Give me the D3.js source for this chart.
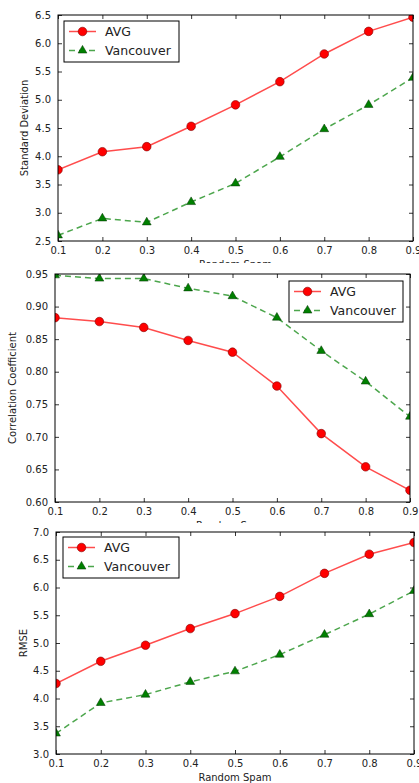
<!DOCTYPE html>
<html>
<head>
<meta charset="utf-8">
<script src="https://cdn.jsdelivr.net/npm/d3@7"></script>
<style>
  html, body { margin: 0; padding: 0; background: #fff; }
  svg { display: block; font-family: "DejaVu Sans", sans-serif; }
</style>
</head>
<body>
<svg id="chart" width="419" height="783"></svg>
<script>
// ---- data ----
const spam = [0.1, 0.2, 0.3, 0.4, 0.5, 0.6, 0.7, 0.8, 0.9];
const seriesNames = ["AVG", "Vancouver"];

const stdAvg = [3.76, 4.08, 4.17, 4.53, 4.91, 5.32, 5.81, 6.21, 6.46];
const stdVan = [2.60, 2.90, 2.83, 3.19, 3.52, 3.99, 4.48, 4.91, 5.39];

const corrAvg = [0.883, 0.877, 0.868, 0.848, 0.830, 0.778, 0.705, 0.654, 0.618];
const corrVan = [0.948, 0.943, 0.943, 0.928, 0.916, 0.883, 0.832, 0.785, 0.731];

const rmseAvg = [4.27, 4.67, 4.96, 5.26, 5.53, 5.84, 6.255, 6.60, 6.81];
const rmseVan = [3.37, 3.92, 4.07, 4.30, 4.49, 4.79, 5.15, 5.52, 5.94];

const xTicks = [0.1, 0.2, 0.3, 0.4, 0.5, 0.6, 0.7, 0.8, 0.9];
const stdTicks = [2.5, 3.0, 3.5, 4.0, 4.5, 5.0, 5.5, 6.0, 6.5];
const corrTicks = [0.60, 0.65, 0.70, 0.75, 0.80, 0.85, 0.90, 0.95];
const rmseTicks = [3.0, 3.5, 4.0, 4.5, 5.0, 5.5, 6.0, 6.5, 7.0];

const xLabel = "Random Spam";

// ---- drawing ----
const svg = d3.select("#chart");

// cropped title remnant at top
svg.append("rect").attr("x", 33).attr("y", 2.5).attr("width", 386).attr("height", 2.5).attr("fill", "#000");
svg.append("text").attr("x", 122).attr("y", -4).attr("font-size", 40).attr("fill", "#000").text("g");

const panels = [
  { box: {l: 58, r: 413, t: 15, b: 241}, domain: [2.5, 6.5], ticks: stdTicks, fmt: d3.format(".1f"),
    ylabel: "Standard Deviation", ylx: 24, avg: stdAvg, van: stdVan,
    legend: {x: 64, y: 21, w: 115, h: 41}, clipTop: 0, clipBottom: 263 },
  { box: {l: 55, r: 410, t: 274, b: 502}, domain: [0.60, 0.95], ticks: corrTicks, fmt: d3.format(".2f"),
    ylabel: "Correlation Coefficient", ylx: 12, avg: corrAvg, van: corrVan,
    legend: {x: 289, y: 281, w: 114, h: 41}, clipTop: 263, clipBottom: 523 },
  { box: {l: 56, r: 414, t: 532, b: 754}, domain: [3.0, 7.0], ticks: rmseTicks, fmt: d3.format(".1f"),
    ylabel: "RMSE", ylx: 23, avg: rmseAvg, van: rmseVan,
    legend: {x: 63, y: 537, w: 116, h: 41}, clipTop: 523, clipBottom: 783 }
];

const red = "#ff0000", green = "#008000";
const tickColor = "#222";

panels.forEach((p, i) => {
  const g = svg.append("g");
  // clip for whole panel image region
  const pc = "pclip" + i;
  svg.append("clipPath").attr("id", pc).append("rect")
    .attr("x", 0).attr("y", p.clipTop).attr("width", 419).attr("height", p.clipBottom - p.clipTop);
  g.attr("clip-path", `url(#${pc})`);
  g.append("rect").attr("x", 0).attr("y", p.clipTop).attr("width", 419)
    .attr("height", p.clipBottom - p.clipTop).attr("fill", "#fff");

  const b = p.box;
  const x = d3.scaleLinear().domain([0.1, 0.9]).range([b.l, b.r]);
  const y = d3.scaleLinear().domain(p.domain).range([b.b, b.t]);

  // axes (matplotlib classic: inward ticks on all four sides)
  const axB = d3.axisBottom(x).tickValues(xTicks).tickFormat(d3.format(".1f")).tickSizeInner(-4).tickSizeOuter(0).tickPadding(6);
  const axT = d3.axisTop(x).tickValues(xTicks).tickFormat("").tickSizeInner(-4).tickSizeOuter(0);
  const axL = d3.axisLeft(y).tickValues(p.ticks).tickFormat(p.fmt).tickSizeInner(-4).tickSizeOuter(0).tickPadding(7);
  const axR = d3.axisRight(y).tickValues(p.ticks).tickFormat("").tickSizeInner(-4).tickSizeOuter(0);

  const gb = g.append("g").attr("transform", `translate(0,${b.b})`).call(axB);
  const gt = g.append("g").attr("transform", `translate(0,${b.t})`).call(axT);
  const gl = g.append("g").attr("transform", `translate(${b.l},0)`).call(axL);
  const gr = g.append("g").attr("transform", `translate(${b.r},0)`).call(axR);
  [gb, gt, gl, gr].forEach(a => {
    a.select(".domain").remove();
    a.selectAll(".tick line").attr("stroke", "#000").attr("stroke-width", 0.8);
    a.selectAll(".tick text").attr("font-family", "DejaVu Sans").attr("font-size", 10).attr("fill", tickColor);
  });

  // plot data clipped to axes
  const cid = "aclip" + i;
  svg.append("clipPath").attr("id", cid).append("rect")
    .attr("x", b.l).attr("y", b.t).attr("width", b.r - b.l).attr("height", b.b - b.t);
  const data = g.append("g").attr("clip-path", `url(#${cid})`);

  const line = d3.line().x((d, k) => x(spam[k])).y(d => y(d));

  data.append("path").datum(p.van).attr("d", line).attr("fill", "none")
    .attr("stroke", green).attr("stroke-opacity", 0.7).attr("stroke-width", 1.5)
    .attr("stroke-dasharray", "6,4");
  data.append("path").datum(p.avg).attr("d", line).attr("fill", "none")
    .attr("stroke", red).attr("stroke-opacity", 0.7).attr("stroke-width", 1.5);

  const tri = d3.symbol().type(d3.symbolTriangle).size(34);
  data.selectAll(".van").data(p.van).join("path").attr("class", "van")
    .attr("d", tri).attr("transform", (d, k) => `translate(${x(spam[k])},${y(d)})`)
    .attr("fill", green).attr("stroke", "#003300").attr("stroke-width", 0.5);
  data.selectAll(".avg").data(p.avg).join("circle").attr("class", "avg")
    .attr("cx", (d, k) => x(spam[k])).attr("cy", d => y(d)).attr("r", 4.3)
    .attr("fill", red).attr("stroke", "#800000").attr("stroke-width", 0.6);

  // frame
  g.append("rect").attr("x", b.l).attr("y", b.t).attr("width", b.r - b.l).attr("height", b.b - b.t)
    .attr("fill", "none").attr("stroke", "#000").attr("stroke-width", 1);

  // axis labels
  g.append("text").attr("x", (b.l + b.r) / 2).attr("y", b.b + 27).attr("text-anchor", "middle")
    .attr("font-size", 10).attr("fill", tickColor).text(xLabel);
  g.append("text").attr("transform", `translate(${p.ylx},${(b.t + b.b) / 2}) rotate(-90)`)
    .attr("text-anchor", "middle").attr("dominant-baseline", "central")
    .attr("font-size", 10).attr("fill", tickColor).text(p.ylabel);

  // legend
  const L = p.legend;
  const lg = g.append("g");
  lg.append("rect").attr("x", L.x).attr("y", L.y).attr("width", L.w).attr("height", L.h)
    .attr("fill", "#fff").attr("stroke", "#000").attr("stroke-width", 1);
  const rows = [
    { name: seriesNames[0], color: red, dash: null, marker: "circle" },
    { name: seriesNames[1], color: green, dash: "6,4", marker: "tri" }
  ];
  rows.forEach((r, k) => {
    const ry = L.y + 10.5 + k * 19;
    lg.append("line").attr("x1", L.x + 5).attr("x2", L.x + 32).attr("y1", ry).attr("y2", ry)
      .attr("stroke", r.color).attr("stroke-opacity", 0.7).attr("stroke-width", 1.5)
      .attr("stroke-dasharray", r.dash);
    if (r.marker === "circle") {
      lg.append("circle").attr("cx", L.x + 18.5).attr("cy", ry).attr("r", 4.3)
        .attr("fill", red).attr("stroke", "#800000").attr("stroke-width", 0.6);
    } else {
      lg.append("path").attr("d", tri).attr("transform", `translate(${L.x + 18.5},${ry})`)
        .attr("fill", green).attr("stroke", "#003300").attr("stroke-width", 0.5);
    }
    lg.append("text").attr("x", L.x + 41).attr("y", ry).attr("dominant-baseline", "central")
      .attr("font-size", 12.5).attr("fill", "#222").text(r.name);
  });
});
</script>
</body>
</html>
